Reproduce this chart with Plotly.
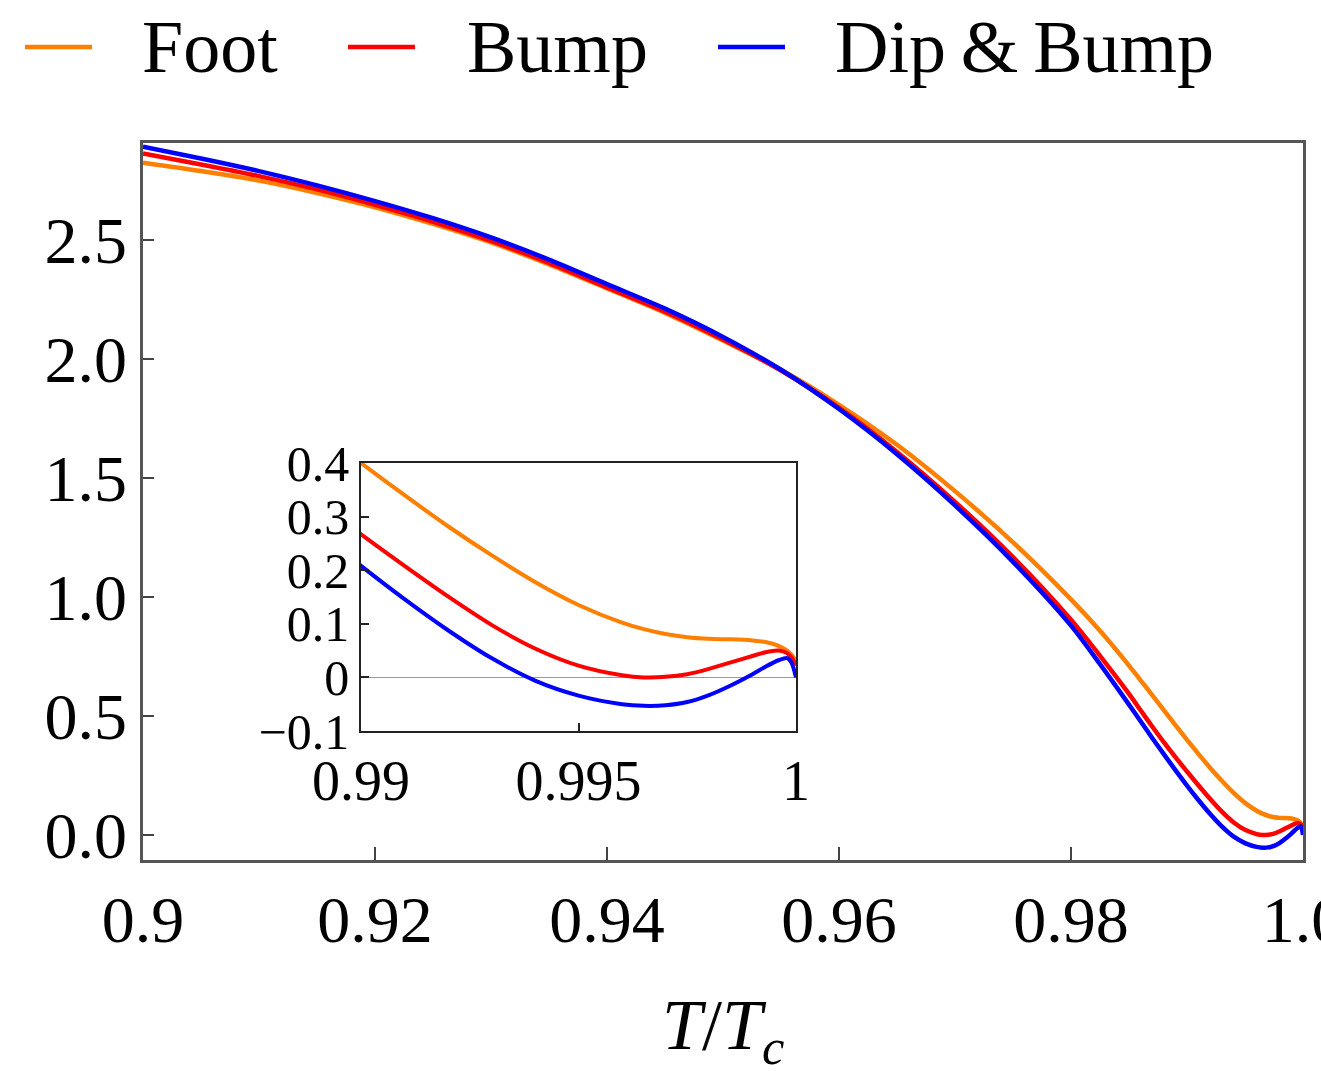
import plotly.graph_objects as go

# ---------------- data ----------------
T = [0.900, 0.905, 0.910, 0.915, 0.920, 0.925, 0.930, 0.935, 0.940, 0.945,
     0.950, 0.955, 0.960, 0.965, 0.970, 0.975, 0.980, 0.9825, 0.985,
     0.986, 0.987, 0.988, 0.989, 0.990, 0.991, 0.992, 0.993, 0.994, 0.995, 0.996,
     0.9965, 0.997, 0.9975, 0.998, 0.9985, 0.999, 0.9993, 0.9996, 0.9998, 0.9999, 1.000]

foot = [2.825, 2.790, 2.750, 2.698, 2.638, 2.568, 2.490, 2.398, 2.297, 2.194,
        2.078, 1.955, 1.808, 1.640, 1.445, 1.230, 0.990, 0.858, 0.712,
        0.650, 0.588, 0.525, 0.462, 0.400, 0.340, 0.282, 0.228, 0.178, 0.135, 0.102,
        0.090, 0.081, 0.075, 0.072, 0.071, 0.069, 0.066, 0.059, 0.050, 0.042, 0.030]

bump = [2.864, 2.818, 2.769, 2.713, 2.648, 2.577, 2.497, 2.404, 2.301, 2.199,
        2.082, 1.952, 1.795, 1.610, 1.400, 1.168, 0.905, 0.753, 0.593,
        0.524, 0.456, 0.390, 0.327, 0.267, 0.208, 0.151, 0.098, 0.054, 0.022, 0.004,
        0.000, 0.001, 0.006, 0.016, 0.028, 0.040, 0.047, 0.050, 0.045, 0.037, 0.022]

dipbump = [2.892, 2.843, 2.790, 2.730, 2.664, 2.592, 2.511, 2.418, 2.315, 2.212,
           2.093, 1.955, 1.790, 1.600, 1.385, 1.148, 0.880, 0.718, 0.548,
           0.478, 0.408, 0.340, 0.273, 0.208, 0.146, 0.088, 0.036, -0.006, -0.034, -0.050,
           -0.053, -0.052, -0.046, -0.033, -0.015, 0.006, 0.020, 0.032, 0.036, 0.027, 0.000]

series_names = ["Foot", "Bump", "Dip\u2009&\u2009Bump"]
series_colors = ["#FF8000", "#FF0000", "#0000FF"]

main_xticks = [0.90, 0.92, 0.94, 0.96, 0.98, 1.00]
main_xticktext = ["0.9", "0.92", "0.94", "0.96", "0.98", "1.0"]
main_yticks = [0.0, 0.5, 1.0, 1.5, 2.0, 2.5]
main_yticktext = ["0.0", "0.5", "1.0", "1.5", "2.0", "2.5"]

inset_xticks = [0.99, 0.995, 1.0]
inset_xticktext = ["0.99", "0.995", "1"]
inset_yticks = [-0.1, 0.0, 0.1, 0.2, 0.3, 0.4]
inset_yticktext = ["\u22120.1", "0", "0.1", "0.2", "0.3", "0.4"]

FONT = "Liberation Serif"

fig = go.Figure()
for name, ys, col in zip(series_names, [foot, bump, dipbump], series_colors):
    fig.add_trace(go.Scatter(x=T, y=ys, mode="lines", name=name,
                             line=dict(color=col, width=4.5, shape="spline", smoothing=0.8),
                             xaxis="x", yaxis="y", showlegend=False))
for name, ys, col in zip(series_names, [foot, bump, dipbump], series_colors):
    fig.add_trace(go.Scatter(x=T, y=ys, mode="lines", name=name,
                             line=dict(color=col, width=4, shape="spline", smoothing=0.8),
                             xaxis="x2", yaxis="y2", showlegend=False))

# main plot area in pixels: x 143..1303, y 143..860
W, H = 1321, 1078
L, R, TOP, BOT = 143, 1303, 143, 860
pw, ph = R - L, BOT - TOP

def px(x):
    return (x - L) / pw

def py(y):
    return (BOT - y) / ph

fig.update_layout(
    width=W, height=H,
    margin=dict(l=L, r=W - R, t=TOP, b=H - BOT, pad=0, autoexpand=False),
    paper_bgcolor="white", plot_bgcolor="white",
    font=dict(family=FONT, color="black"),
    xaxis=dict(range=[0.9, 1.0], tickvals=main_xticks, ticktext=main_xticktext,
               ticks="inside", ticklen=13, tickwidth=2, tickcolor="#444",
               showline=True, linecolor="#555", linewidth=2.5, mirror=True,
               showgrid=False, zeroline=False, tickfont=dict(size=66),
               ticklabeloverflow="allow", automargin=False),
    yaxis=dict(range=[-0.105, 2.908], tickvals=main_yticks, ticktext=main_yticktext,
               ticks="inside", ticklen=11, tickwidth=2, tickcolor="#444",
               showline=True, linecolor="#555", linewidth=2.5, mirror=True,
               showgrid=False, zeroline=False, tickfont=dict(size=66),
               automargin=False),
    xaxis2=dict(domain=[px(361), px(796)], anchor="y2", range=[0.99, 1.0],
                tickvals=inset_xticks, ticktext=inset_xticktext,
                ticks="inside", ticklen=8, tickwidth=1.5, tickcolor="#222",
                showline=True, linecolor="#222", linewidth=1.5, mirror=True,
                showgrid=False, zeroline=False, tickfont=dict(size=56),
                automargin=False),
    yaxis2=dict(domain=[py(731), py(463)], anchor="x2", range=[-0.1, 0.4],
                tickvals=inset_yticks, ticktext=inset_yticktext,
                ticks="inside", ticklen=8, tickwidth=1.5, tickcolor="#222",
                showline=True, linecolor="#222", linewidth=1.5, mirror=True,
                showgrid=False, zeroline=True, zerolinecolor="#999", zerolinewidth=1,
                tickfont=dict(size=50), automargin=False),
)

# legend drawn at the top (line samples + labels)
leg_y = 47
leg_items = [(25, 92, 140), (348, 415, 465), (718, 785, 833)]
for (x0, x1, xt), name, col in zip(leg_items, series_names, series_colors):
    fig.add_shape(type="line", xref="paper", yref="paper",
                  x0=px(x0), x1=px(x1), y0=py(leg_y), y1=py(leg_y),
                  line=dict(color=col, width=4.5))
    fig.add_annotation(xref="paper", yref="paper", x=px(xt), y=py(leg_y),
                       xanchor="left", yanchor="middle", showarrow=False,
                       text=name, font=dict(size=74, family=FONT, color="black"))

# axis title
fig.add_annotation(xref="paper", yref="paper", x=px(723), y=py(1077),
                   xanchor="center", yanchor="bottom", showarrow=False,
                   text="<i>T</i>/<i>T</i><sub><i>c</i></sub>",
                   font=dict(size=72, family=FONT, color="black"))

fig.write_html("out.html")
